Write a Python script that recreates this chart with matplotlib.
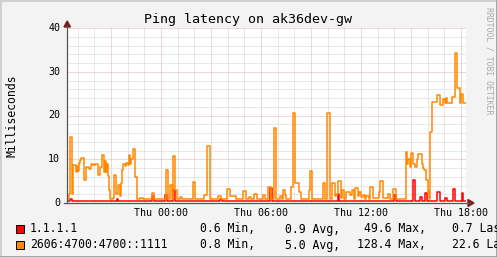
import matplotlib
matplotlib.use("Agg")
import matplotlib.pyplot as plt
from matplotlib.lines import Line2D
from matplotlib.patches import Rectangle, Polygon

W, H = 497, 257

# time axis: hours relative to Thu 00:00
t_start, t_end = -5.64, 18.3

# 2606:4700:4700::1111 -- step breakpoints, hour and ms side by side
v6_t = [-5.64, -5.52, -5.46, -5.34, -5.28, -5.10, -5.04, -4.98, -4.92, -4.86,
        -4.80, -4.62, -4.50, -4.32, -4.20, -4.08, -3.96, -3.78, -3.66, -3.54,
        -3.42, -3.36, -3.30, -3.24, -3.18, -3.12, -3.06, -2.88, -2.82, -2.70,
        -2.58, -2.46, -2.40, -2.34, -2.28, -2.16, -2.10, -1.98, -1.92, -1.86,
        -1.80, -1.68, -1.56, -1.44, -1.26, -1.08, -0.54, -0.42, 0.30, 0.42,
        0.54, 0.66, 0.72, 0.84, 0.96, 1.14, 1.26, 1.92, 2.04, 2.58,
        2.76, 2.94, 3.42, 3.60, 3.96, 4.14, 4.50, 4.92, 5.10, 5.28,
        5.40, 5.58, 5.76, 6.12, 6.24, 6.42, 6.60, 6.78, 6.90, 7.14,
        7.26, 7.32, 7.44, 7.50, 7.80, 7.92, 8.04, 8.28, 8.40, 8.88,
        8.94, 9.06, 9.72, 9.84, 9.96, 10.14, 10.26, 10.44, 10.50, 10.62,
        10.80, 10.86, 10.98, 11.10, 11.34, 11.46, 11.58, 11.64, 11.82, 11.88,
        12.00, 12.12, 12.24, 12.30, 12.48, 12.54, 12.72, 13.08, 13.14, 13.32,
        13.62, 13.74, 13.92, 14.10, 14.70, 14.76, 14.82, 14.94, 15.00, 15.12,
        15.24, 15.36, 15.42, 15.66, 15.72, 15.78, 15.90, 16.02, 16.08, 16.14,
        16.26, 16.56, 16.74, 16.92, 17.04, 17.10, 17.16, 17.46, 17.64, 17.76,
        17.94, 18.00, 18.12, 18.30]
v6_ms = [1.0, 2.0, 15.2, 2.0, 8.8, 7.2, 8.5, 7.4, 9.2, 9.8,
         10.2, 5.3, 8.3, 7.8, 9.0, 8.6, 9.0, 6.4, 8.3, 11.0,
         7.2, 9.5, 7.0, 9.0, 6.2, 3.0, 1.0, 1.2, 6.5, 2.0,
         4.2, 1.5, 4.5, 7.5, 9.0, 8.5, 9.2, 8.8, 11.0, 9.0,
         10.0, 12.3, 6.0, 1.0, 1.2, 1.0, 2.2, 1.0, 7.5, 1.0,
         4.1, 1.0, 10.7, 3.0, 1.0, 1.3, 1.0, 4.9, 1.0, 1.8,
         13.1, 1.0, 1.6, 1.0, 3.1, 1.6, 1.0, 2.7, 1.0, 1.4,
         1.0, 2.0, 1.0, 1.8, 1.0, 3.7, 1.0, 17.1, 1.0, 1.5,
         1.0, 2.9, 1.8, 1.0, 3.7, 20.5, 4.5, 2.5, 1.0, 3.0,
         7.4, 1.0, 4.6, 1.0, 20.5, 1.0, 4.5, 1.5, 2.0, 5.0,
         1.2, 3.0, 1.0, 2.5, 1.8, 2.9, 1.0, 3.4, 1.5, 2.6,
         1.3, 1.8, 1.0, 1.6, 1.0, 3.7, 1.2, 2.5, 5.0, 1.2,
         2.0, 1.0, 3.2, 1.0, 11.7, 9.0, 10.0, 8.3, 11.5, 9.0,
         8.3, 10.0, 11.3, 9.0, 8.0, 7.5, 5.3, 2.6, 1.0, 16.3,
         23.0, 24.7, 22.5, 23.8, 22.8, 24.0, 22.8, 24.3, 34.2, 26.2,
         22.8, 25.0, 22.8, 22.8]

# 1.1.1.1 -- step breakpoints
v4_t = [-5.64, -5.46, -5.34, -2.64, -2.58, -0.54, -0.42, 0.24, 0.36, 0.72,
        0.84, 3.54, 3.66, 6.54, 6.66, 10.62, 10.68, 13.98, 14.10, 15.12,
        15.24, 15.54, 15.66, 15.84, 15.96, 16.56, 16.74, 17.04, 17.16, 17.52,
        17.64, 18.06, 18.12, 18.30]
v4_ms = [0.55, 1.0, 0.55, 0.9, 0.55, 1.5, 0.55, 1.8, 0.55, 3.0,
         0.55, 1.0, 0.55, 3.4, 0.55, 2.0, 0.55, 1.8, 0.55, 5.3,
         0.55, 1.3, 0.55, 2.4, 0.55, 2.6, 0.55, 1.2, 0.55, 3.3,
         0.55, 2.2, 0.55, 0.55]

legend_names = ["1.1.1.1", "2606:4700:4700::1111"]
legend_min = ["0.6", "0.8"]
legend_avg = ["0.9", "5.0"]
legend_max = ["49.6", "128.4"]
legend_last = ["0.7", "22.6"]
colors = ["#ff0000", "#ff8800"]

x_labels = ["Thu 00:00", "Thu 06:00", "Thu 12:00", "Thu 18:00"]
x_label_pos = [0, 6, 12, 18]

mono = "DejaVu Sans Mono"


def fx(x):
    return x / W


def fy(y):
    return 1 - y / H


fig = plt.figure(figsize=(W / 100, H / 100), dpi=100, facecolor="#f3f3f3")
ax = fig.add_axes([fx(67), fy(203), fx(466) - fx(67), fy(28) - fy(203)])
ax.set_facecolor("white")
ax.set_xlim(t_start, t_end)
ax.set_ylim(0, 40)
for s in ax.spines.values():
    s.set_visible(False)
ax.set_xticks([])
ax.set_yticks([])

# grid, rrdtool style
dots = (0, (1, 1))
for h in range(-5, 19):
    major = h % 3 == 0
    ax.axvline(h, color="#e2b0b0" if major else "#d2d2d2", lw=0.72,
               linestyle=dots, zorder=1)
for v in range(2, 41, 2):
    major = v % 10 == 0
    ax.axhline(v, color="#e2b0b0" if major else "#d2d2d2", lw=0.72,
               linestyle=dots, zorder=1)

ax.step(v4_t, v4_ms, where="post", color=colors[0], lw=1.1, zorder=3)
ax.step(v6_t, v6_ms, where="post", color=colors[1], lw=1.1, zorder=3)

# axes with arrows
axis_c = "#555555"
fig.add_artist(Line2D([fx(67), fx(67)], [fy(203), fy(26)], color=axis_c, lw=0.9))
fig.add_artist(Line2D([fx(64), fx(470)], [fy(203), fy(203)], color=axis_c, lw=0.9))
arrow_c = "#7f1d1d"
fig.add_artist(Polygon([(fx(64), fy(27)), (fx(70.5), fy(27)), (fx(67.2), fy(21))],
                       closed=True, color=arrow_c))
fig.add_artist(Polygon([(fx(468), fy(199.5)), (fx(468), fy(206.5)), (fx(474), fy(203))],
                       closed=True, color=arrow_c))

# tick labels
for v in range(0, 41, 10):
    ax.text(-0.017, v / 40, str(v), transform=ax.transAxes, ha="right",
            va="center", fontsize=7.2, family=mono)
for lbl, h in zip(x_labels, x_label_pos):
    ax.text(h, -2.3, lbl, ha="center", va="center", fontsize=7.2, family=mono)

fig.text(fx(248), fy(19), "Ping latency on ak36dev-gw", ha="center", va="center",
         fontsize=9.6, family=mono)
fig.text(fx(12), fy(116), "Milliseconds", ha="center", va="center", rotation=90,
         fontsize=8.3, family=mono)
fig.text(fx(489), fy(61), "RRDTOOL / TOBI OETIKER", ha="center", va="center",
         rotation=270, fontsize=5.9, family=mono, color="#aaaaaa")

# legend rows
for i, name in enumerate(legend_names):
    yc = 229 + 16 * i
    fig.add_artist(Rectangle((fx(16), fy(yc + 4)), fx(8), 8 / H,
                             facecolor=colors[i], edgecolor="black", lw=0.7))
    fig.text(fx(30), fy(yc), name, va="center", fontsize=8.3, family=mono)
    fig.text(fx(200), fy(yc), legend_min[i] + " Min,", va="center", fontsize=8.3, family=mono)
    fig.text(fx(340), fy(yc), legend_avg[i] + " Avg,", va="center", ha="right",
             fontsize=8.3, family=mono)
    fig.text(fx(426), fy(yc), legend_max[i] + " Max,", va="center", ha="right",
             fontsize=8.3, family=mono)
    fig.text(fx(452), fy(yc), legend_last[i] + " Last", va="center", fontsize=8.3,
             family=mono)

# 3D frame
fig.add_artist(Line2D([0, 0], [0, 1], color="#cfcfcf", lw=2))
fig.add_artist(Line2D([0, 1], [1, 1], color="#cfcfcf", lw=2))
fig.add_artist(Line2D([1, 1], [0, 1], color="#9e9e9e", lw=2))
fig.add_artist(Line2D([0, 1], [0, 0], color="#9e9e9e", lw=2))

fig.savefig("out.png", dpi=100, facecolor=fig.get_facecolor())
